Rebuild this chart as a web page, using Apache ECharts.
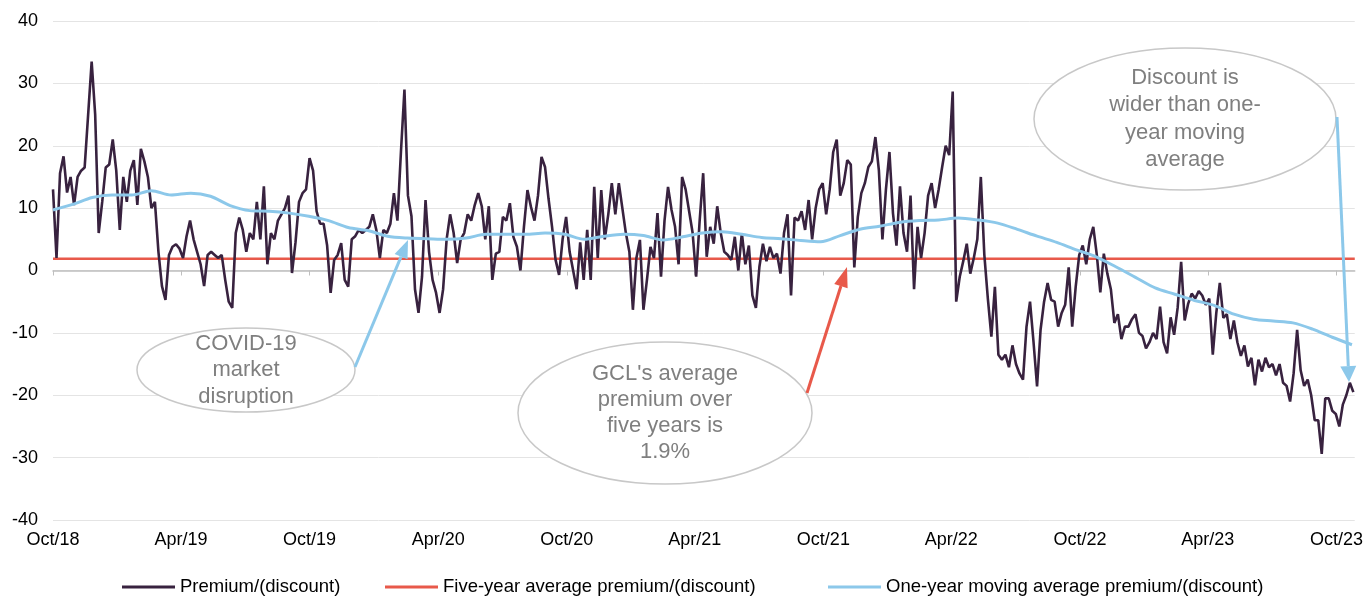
<!DOCTYPE html>
<html><head><meta charset="utf-8">
<script src="https://cdn.jsdelivr.net/npm/echarts@6/dist/echarts.min.js"></script>
<style>html,body{margin:0;padding:0;background:#fff}#c{width:1366px;height:596px}</style>
</head><body><div id="c"></div>
<script>
// ---------- DATA ----------
const startDate = '2018-10-01';
const axisEndDate = '2023-10-27';
const premiumStepDays = 5;
const premium = [
13,2,15.6,18.3,12.5,15,10.5,15,16,16.5,25,33.5,25,6,11,16.5,17,21,16,6.5,
15,11,16,17.7,10.5,19.5,17.5,15,10,11,3,-2.5,-4.7,2.5,3.8,4.2,3.5,2,5.5,8,
5,3,1,-2.5,2.5,3,2.5,2,2.5,-1.5,-5,-6,6,8.5,6.5,3,6,5,11,5,
13.5,1,6,5,8,9,10,12,-0.4,4.5,11,12.4,13,18,16,9.5,7.5,7.5,4,-3.6,
1.7,2.5,4.4,-1.5,-2.6,5,5.5,6.5,6,6.5,7,9,6.5,2,6.5,6,7.5,12.4,8,19,
29,12,8.7,-3,-6.8,-1,11.3,3,-1.5,-3.6,-6.8,-3,5,9,6,1.2,5,6,9,8,
10.5,12.4,10.3,5,10.3,-1.5,2.7,3,8.6,8,10.8,5.4,3.8,0,7,12.9,10.2,8,12,18.2,
16.6,11.5,7,1.7,-0.7,5,8.6,3,0,-3,4.5,-1.5,6.5,-1.5,13.4,2,12.9,5,9,14,
9,14,10,6,3,-6.3,2,4.9,-6.3,-1.5,3.8,2,9.2,-1,8,13.4,9.7,7,1,15,
13,9.5,6,-1,8,15.6,2.2,7,4.3,10.3,6,3,2.5,1.7,5.4,0,6,1,4,-4,
-6,0.6,4.3,1.5,3.8,2,2.7,-0.5,6,9,-4,8.5,8,9.5,6.5,11.3,5,10,13,14,
9,13,19,21,12,14,17.7,17,0.5,8.6,12.4,14,16.6,17.5,21.4,16,5,13,19,9.2,
4,13.5,6,3,12,-3,7,2,6,12,14,10,13,16.6,20,18.5,28.7,-5,-1,1.5,
4.3,-0.5,2,5,15,2.5,-4.5,-10.6,-2.6,-13.5,-14.3,-13.5,-15.5,-12,-15,-16.5,-17.5,-9,-5,-11.5,
-18.6,-9.5,-5,-2,-4.7,-5,-9,-6.8,-5.5,0.5,-9,-2.6,2.5,4,1,5,7,2.5,-3.5,2.7,
-0.5,-3,-8.4,-7,-11,-9,-9,-7.8,-7,-10,-10.5,-12.5,-11.5,-10,-11,-5.8,-11.5,-13.3,-7.5,-10.3,
-6,1.4,-8,-5.3,-3.7,-4.5,-3.3,-4,-5.5,-4.5,-13.5,-6.8,-2,-7.6,-7,-11,-8,-11.5,-13.7,-12,
-15.4,-14,-18.4,-14.3,-16.2,-14,-15.5,-15,-16.8,-15,-18,-18.5,-21,-16.5,-9.5,-16,-18.5,-17.5,-20,-24,
-24,-29.4,-20.5,-20.5,-22.5,-23,-25,-21.5,-20,-18,-19.5
];
const maStepDays = 28;
const movingAvg = [
9.7,10.6,11.7,12.1,12.1,12.8,12.1,12.4,11.9,10.4,9.6,9.5,9.2,8.7,8.0,6.9,6.4,5.5,5.2,5.1,
5.0,5.2,5.8,5.8,5.8,6.0,5.8,5.0,5.5,5.8,5.6,4.9,5.4,6.0,6.2,5.8,5.3,5.1,4.8,4.6,
5.6,6.6,7.1,7.7,8.0,8.1,8.4,8.1,7.6,6.6,5.5,4.5,3.3,2.2,0.6,-1.1,-2.8,-3.8,-4.8,-5.6,
-7.0,-7.8,-8.1,-8.4,-9.4,-10.7,-11.9
];
const fiveYearAvg = 1.9;
const tickDates = ['2018-10-01','2019-04-01','2019-10-01','2020-04-01','2020-10-01','2021-04-01',
  '2021-10-01','2022-04-01','2022-10-01','2023-04-01','2023-10-01'];
const tickLabels = ['Oct/18','Apr/19','Oct/19','Apr/20','Oct/20','Apr/21','Oct/21','Apr/22','Oct/22','Apr/23','Oct/23'];
const yTicks = {min: -40, max: 40, step: 10};
const seriesNames = ['Premium/(discount)','Five-year average premium/(discount)','One-year moving average premium/(discount)'];
const notes = {
  covid: 'COVID-19\nmarket\ndisruption',
  avg: "GCL's average\npremium over\nfive years is\n1.9%",
  disc: 'Discount is\nwider than one-\nyear moving\naverage'
};

// ---------- BUILD ----------
const dayOf = d => Math.round((Date.parse(d) - Date.parse(startDate)) / 86400000);
const tickDays = tickDates.map(dayOf);
const endDay = dayOf(axisEndDate);
const FONT = '"Liberation Sans", Arial, Helvetica, sans-serif';

const premiumData = premium.map((v, i) => [i * premiumStepDays, v]);
const maData = movingAvg.map((v, k) => [k * maStepDays, v]);
const avgData = [[0, fiveYearAvg], [endDay, fiveYearAvg]];

function arrow(x1, y1, x2, y2, color, headLen, headHalf) {
  const dx = x2 - x1, dy = y2 - y1, L = Math.hypot(dx, dy);
  const ux = dx / L, uy = dy / L, bx = x2 - ux * headLen, by = y2 - uy * headLen;
  const px = -uy, py = ux;
  return [
    {type: 'line', z: 120, shape: {x1: x1, y1: y1, x2: bx, y2: by}, style: {stroke: color, lineWidth: 3}},
    {type: 'polygon', z: 120, shape: {points: [[x2, y2], [bx + px * headHalf, by + py * headHalf], [bx - px * headHalf, by - py * headHalf]]}, style: {fill: color}}
  ];
}
function bubble(cx, cy, rx, ry, text, lh) {
  return [
    {type: 'ellipse', z: 110, shape: {cx: cx, cy: cy, rx: rx, ry: ry}, style: {fill: '#fff', stroke: '#c8c8c8', lineWidth: 1.5}},
    {type: 'text', z: 111, x: cx, y: cy, style: {text: text, fontSize: 22, fontFamily: FONT, fill: '#7f7f7f', align: 'center', verticalAlign: 'middle', lineHeight: lh}}
  ];
}

const legendBase = {
  icon: 'rect', itemWidth: 53, itemHeight: 3, padding: 0, top: 577, selectedMode: false,
  textStyle: {fontSize: 18.5, color: '#000', fontFamily: FONT, lineHeight: 20}
};

const chart = echarts.init(document.getElementById('c'));
chart.setOption({
  animation: false,
  backgroundColor: '#fff',
  grid: {left: 53, right: 9, top: 21, bottom: 76},
  legend: [
    Object.assign({}, legendBase, {left: 122, data: [seriesNames[0]]}),
    Object.assign({}, legendBase, {left: 385, data: [seriesNames[1]]}),
    Object.assign({}, legendBase, {left: 828, data: [seriesNames[2]]})
  ],
  xAxis: [{
    type: 'value', min: 0, max: endDay, position: 'bottom',
    axisLine: {show: false, onZero: false},
    axisTick: {show: false},
    splitLine: {show: false},
    axisLabel: {
      customValues: tickDays, margin: 11, fontSize: 18, color: '#000', fontFamily: FONT,
      formatter: v => { const k = tickDays.indexOf(Math.round(v)); return k >= 0 ? tickLabels[k] : ''; }
    }
  }, {
    type: 'value', min: 0, max: endDay, position: 'bottom',
    axisLine: {show: true, onZero: true, lineStyle: {color: '#bfbfbf', width: 1.5}},
    axisTick: {show: true, customValues: tickDays, length: 5, inside: false, lineStyle: {color: '#bfbfbf', width: 1}},
    axisLabel: {show: false},
    splitLine: {show: false}
  }],
  yAxis: {
    type: 'value', min: yTicks.min, max: yTicks.max, interval: yTicks.step,
    axisLine: {show: false}, axisTick: {show: false},
    splitLine: {lineStyle: {color: '#e4e4e4', width: 1}},
    axisLabel: {fontSize: 18, color: '#000', fontFamily: FONT, margin: 15}
  },
  series: [
    {name: seriesNames[0], type: 'line', data: premiumData, showSymbol: false, symbol: 'none', z: 3,
     itemStyle: {color: '#38223f'}, lineStyle: {color: '#38223f', width: 2.6}},
    {name: seriesNames[1], type: 'line', data: avgData, showSymbol: false, symbol: 'none', z: 2,
     itemStyle: {color: '#e8594a'}, lineStyle: {color: '#e8594a', width: 2.5}},
    {name: seriesNames[2], type: 'line', data: maData, showSymbol: false, symbol: 'none', smooth: 0.3, z: 4,
     itemStyle: {color: '#8cc8ea'}, lineStyle: {color: '#8cc8ea', width: 3}}
  ],
  graphic: [].concat(
    bubble(246, 370, 109, 42, notes.covid, 26.5),
    bubble(665, 413, 147, 71, notes.avg, 26),
    bubble(1185, 119, 151, 71, notes.disc, 27.3),
    arrow(355, 367, 408, 240, '#8cc8ea', 18, 7),
    arrow(807, 393, 847, 267, '#e8594a', 20, 7),
    arrow(1337, 117, 1349, 382, '#8cc8ea', 16, 8)
  )
});
</script></body></html>
